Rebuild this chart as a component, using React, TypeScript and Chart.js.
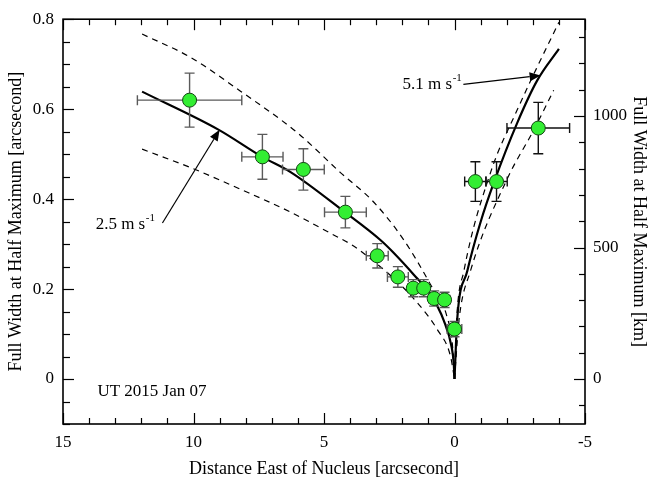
import React, { useEffect, useRef } from 'react';
import { Chart, registerables } from 'chart.js';
Chart.register(...registerables);

// Observations: distance east of nucleus [arcsec], FWHM [arcsec], errors
const obsX = [10.15, 7.36, 5.79, 4.18, 2.96, 2.17, 1.58, 1.18, 0.78, 0.38, 0.0, -0.8, -1.61, -3.21];
const obsY = [0.62, 0.494, 0.466, 0.371, 0.274, 0.227, 0.202, 0.202, 0.179, 0.176, 0.111, 0.439, 0.439, 0.558];
const obsXErr = [2.0, 0.79, 0.8, 0.8, 0.42, 0.4, 0.2, 0.2, 0.2, 0.2, 0.28, 0.41, 0.41, 1.2];
const obsYErr = [0.06, 0.05, 0.046, 0.035, 0.027, 0.023, 0.019, 0.019, 0.017, 0.017, 0.017, 0.044, 0.044, 0.057];

// Model curves
const solidLeftX = [11.97, 9.03, 7.37, 6.28, 4.18, 2.84, 2.39, 1.56, 0.92, 0.41, 0.11, 0.03, 0];
const solidLeftY = [0.639, 0.554, 0.494, 0.46, 0.37, 0.309, 0.284, 0.232, 0.188, 0.13, 0.071, 0.035, 0];
const upperLeftX = [11.97, 10.11, 8.2, 6.03, 4.37, 3.09, 1.94, 0.92, 0.28, 0.07, 0];
const upperLeftY = [0.767, 0.715, 0.64, 0.548, 0.459, 0.393, 0.309, 0.21, 0.137, 0.07, 0];
const lowerLeftX = [11.97, 10.11, 8.2, 6.28, 4.75, 3.93, 3.1, 2.3, 1.43, 0.66, 0.15, 0];
const lowerLeftY = [0.511, 0.47, 0.422, 0.371, 0.324, 0.298, 0.262, 0.222, 0.17, 0.11, 0.05, 0];
const solidRightX = [0, -0.03, -0.1, -0.49, -1.0, -1.51, -2.4, -3.17, -4.0];
const solidRightY = [0, 0.04, 0.13, 0.24, 0.349, 0.437, 0.569, 0.664, 0.734];
const upperRightX = [0, -0.03, -0.08, -0.36, -1.38, -2.4, -3.17, -4.0];
const upperRightY = [0, 0.05, 0.13, 0.24, 0.459, 0.598, 0.694, 0.793];
const lowerRightX = [0, -0.05, -0.17, -0.61, -2.02, -3.04, -3.8];
const lowerRightY = [0, 0.04, 0.13, 0.24, 0.445, 0.554, 0.642];

// Axis tick labels
const xTickValues = [15, 10, 5, 0, -5];
const yTickValues = [0, 0.2, 0.4, 0.6, 0.8];
const kmTickValues = [0, 500, 1000];
const KM_PER_ARCSEC = 1710;

// Annotations (data coordinates)
const labelTexts = ['2.5 m s', '5.1 m s'];
const labelSup = ['-1', '-1'];
const labelX = [13.75, 1.99];
const labelY = [0.334, 0.644];
const arrowFromX = [11.19, -0.34];
const arrowFromY = [0.347, 0.655];
const arrowToX = [9.0, -3.3];
const arrowToY = [0.554, 0.675];
const dateText = 'UT 2015 Jan 07';
const dateX = 13.68;
const dateY = -0.037;

const FONT = '"Liberation Serif", "Times New Roman", serif';
const TICK_SIZE = 17;
const TITLE_SIZE = 18;

const pts = (xs: number[], ys: number[]) => xs.map((x, i) => ({ x, y: ys[i] }));

const curve = (xs: number[], ys: number[], dashed: boolean) => ({
  type: 'line' as const,
  data: pts(xs, ys),
  showLine: true,
  borderColor: '#000',
  borderWidth: dashed ? 1.2 : 2.2,
  borderDash: dashed ? [6, 5] : [],
  pointRadius: 0,
  fill: false,
  cubicInterpolationMode: 'monotone' as const,
});

const errorBarPlugin = {
  id: 'errorBars',
  beforeDatasetDraw(chart: any, args: any) {
    if (args.index !== 0) return;
    const { ctx, scales } = chart;
    const xs = scales.x, ys = scales.y;
    ctx.save();
    ctx.lineWidth = 1.4;
    for (let i = 0; i < obsX.length; i++) {
      ctx.strokeStyle = i >= 11 ? '#111' : '#5a5a5a';
      const px = xs.getPixelForValue(obsX[i]);
      const py = ys.getPixelForValue(obsY[i]);
      const x1 = xs.getPixelForValue(obsX[i] - obsXErr[i]);
      const x2 = xs.getPixelForValue(obsX[i] + obsXErr[i]);
      const y1 = ys.getPixelForValue(obsY[i] - obsYErr[i]);
      const y2 = ys.getPixelForValue(obsY[i] + obsYErr[i]);
      const c = 5;
      ctx.beginPath();
      ctx.moveTo(x1, py); ctx.lineTo(x2, py);
      ctx.moveTo(x1, py - c); ctx.lineTo(x1, py + c);
      ctx.moveTo(x2, py - c); ctx.lineTo(x2, py + c);
      ctx.moveTo(px, y1); ctx.lineTo(px, y2);
      ctx.moveTo(px - c, y1); ctx.lineTo(px + c, y1);
      ctx.moveTo(px - c, y2); ctx.lineTo(px + c, y2);
      ctx.stroke();
    }
    ctx.restore();
  },
};

const framePlugin = {
  id: 'frameTicks',
  afterDraw(chart: any) {
    const { ctx, chartArea: a, scales } = chart;
    ctx.save();
    ctx.strokeStyle = '#000';
    const line = (x1: number, y1: number, x2: number, y2: number) => {
      ctx.beginPath(); ctx.moveTo(x1, y1); ctx.lineTo(x2, y2); ctx.stroke();
    };
    ctx.lineWidth = 1.2;
    for (let v = -5; v <= 15; v++) {
      const px = Math.round(scales.x.getPixelForValue(v)) + 0.5;
      const len = v % 5 === 0 ? 11 : 6;
      line(px, a.bottom, px, a.bottom - len);
      line(px, a.top, px, a.top + len);
    }
    for (let k = -2; k <= 16; k++) {
      const py = Math.round(scales.y.getPixelForValue(k * 0.05)) + 0.5;
      const len = k % 4 === 0 ? 11 : 7;
      line(a.left, py, a.left + len, py);
    }
    for (let k = -1; k <= 13; k++) {
      const py = Math.round(scales.y2.getPixelForValue(k * 100)) + 0.5;
      const len = k % 5 === 0 ? 11 : 6;
      line(a.right, py, a.right - len, py);
    }
    ctx.lineWidth = 1.6;
    ctx.strokeRect(a.left, a.top, a.right - a.left, a.bottom - a.top);

    // annotations
    ctx.fillStyle = '#000';
    ctx.strokeStyle = '#000';
    ctx.textBaseline = 'alphabetic';
    ctx.textAlign = 'left';
    for (let i = 0; i < labelTexts.length; i++) {
      const lx = scales.x.getPixelForValue(labelX[i]);
      const ly = scales.y.getPixelForValue(labelY[i]);
      ctx.font = `${TICK_SIZE}px ${FONT}`;
      ctx.fillText(labelTexts[i], lx, ly);
      const w = ctx.measureText(labelTexts[i]).width;
      ctx.font = `11px ${FONT}`;
      ctx.fillText(labelSup[i], lx + w + 0.5, ly - 8);

      const fx = scales.x.getPixelForValue(arrowFromX[i]);
      const fy = scales.y.getPixelForValue(arrowFromY[i]);
      const tx = scales.x.getPixelForValue(arrowToX[i]);
      const ty = scales.y.getPixelForValue(arrowToY[i]);
      const ang = Math.atan2(ty - fy, tx - fx);
      const hl = 11, hw = 4.5;
      const bx = tx - hl * Math.cos(ang), by = ty - hl * Math.sin(ang);
      ctx.lineWidth = 1.2;
      line(fx, fy, bx, by);
      ctx.beginPath();
      ctx.moveTo(tx, ty);
      ctx.lineTo(bx + hw * Math.sin(ang), by - hw * Math.cos(ang));
      ctx.lineTo(bx - hw * Math.sin(ang), by + hw * Math.cos(ang));
      ctx.closePath();
      ctx.fill();
    }
    ctx.font = `${TICK_SIZE}px ${FONT}`;
    ctx.fillText(dateText, scales.x.getPixelForValue(dateX), scales.y.getPixelForValue(dateY));
    ctx.restore();
  },
};

export default function App() {
  const ref = useRef<HTMLCanvasElement | null>(null);
  useEffect(() => {
    if (!ref.current) return;
    Chart.defaults.font.family = FONT;
    Chart.defaults.font.size = TICK_SIZE;
    Chart.defaults.color = '#000';
    const tickFont = { size: TICK_SIZE, family: FONT };
    const titleFont = { size: TITLE_SIZE, family: FONT };
    const chart = new Chart(ref.current, {
      type: 'scatter',
      data: {
        datasets: [
          {
            type: 'scatter',
            data: pts(obsX, obsY),
            pointRadius: 7,
            pointHoverRadius: 7,
            backgroundColor: '#33ee33',
            borderColor: '#124412',
            borderWidth: 1,
          } as any,
          curve(solidLeftX, solidLeftY, false),
          curve(upperLeftX, upperLeftY, true),
          curve(lowerLeftX, lowerLeftY, true),
          curve(solidRightX, solidRightY, false),
          curve(upperRightX, upperRightY, true),
          curve(lowerRightX, lowerRightY, true),
        ],
      },
      options: {
        animation: false,
        responsive: false,
        events: [],
        layout: { padding: { top: 16, left: 0, right: 0, bottom: 0 } },
        plugins: { legend: { display: false }, tooltip: { enabled: false } },
        scales: {
          x: {
            type: 'linear',
            reverse: true,
            min: -5,
            max: 15,
            grid: { display: false, drawTicks: false },
            border: { display: false },
            ticks: { padding: 8, font: tickFont, color: '#000', callback: (v: any) => String(v) },
            afterBuildTicks: (s: any) => { s.ticks = xTickValues.map((v) => ({ value: v })); },
            afterFit: (s: any) => { s.height = 56; },
            title: {
              display: true,
              text: 'Distance East of Nucleus [arcsecond]',
              font: titleFont,
              color: '#000',
              padding: { top: 0, bottom: 0 },
            },
          },
          y: {
            type: 'linear',
            position: 'left',
            min: -0.1,
            max: 0.8,
            grid: { display: false, drawTicks: false },
            border: { display: false },
            ticks: { padding: 9, font: tickFont, color: '#000', callback: (v: any) => String(Math.round(v * 10) / 10) },
            afterBuildTicks: (s: any) => { s.ticks = yTickValues.map((v) => ({ value: v })); },
            afterFit: (s: any) => { s.width = 63; },
            title: {
              display: true,
              text: 'Full Width at Half Maximum [arcsecond]',
              font: titleFont,
              color: '#000',
              padding: { top: 5, bottom: 0 },
            },
          },
          y2: {
            type: 'linear',
            position: 'right',
            min: -0.1 * KM_PER_ARCSEC,
            max: 0.8 * KM_PER_ARCSEC,
            grid: { display: false, drawTicks: false },
            border: { display: false },
            ticks: { padding: 8, font: tickFont, color: '#000', callback: (v: any) => String(v) },
            afterBuildTicks: (s: any) => { s.ticks = kmTickValues.map((v) => ({ value: v })); },
            afterFit: (s: any) => { s.width = 65; },
            title: {
              display: true,
              text: 'Full Width at Half Maximum [km]',
              font: titleFont,
              color: '#000',
              padding: { top: 0, bottom: 0 },
            },
          },
        },
      },
      plugins: [errorBarPlugin, framePlugin],
    } as any);
    return () => chart.destroy();
  }, []);
  return (
    <canvas
      ref={ref}
      width={650}
      height={480}
      style={{ position: 'fixed', left: 0, top: 0, width: 650, height: 480, background: '#fff' }}
    />
  );
}
